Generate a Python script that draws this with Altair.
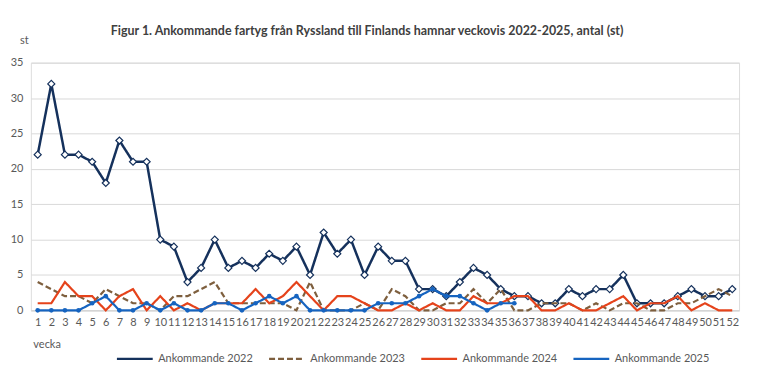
import altair as alt
import pandas as pd

weeks = list(range(1, 53))
years = ["Ankommande 2022", "Ankommande 2023", "Ankommande 2024", "Ankommande 2025"]
v2022 = [22, 32, 22, 22, 21, 18, 24, 21, 21, 10, 9, 4, 6, 10, 6, 7, 6, 8, 7, 9,
         5, 11, 8, 10, 5, 9, 7, 7, 3, 3, 2, 4, 6, 5, 3, 2, 2, 1, 1, 3,
         2, 3, 3, 5, 1, 1, 1, 2, 3, 2, 2, 3]
v2023 = [4, 3, 2, 2, 1, 3, 2, 1, 1, 0, 2, 2, 3, 4, 1, 1, 1, 1, 1, 0,
         4, 0, 0, 0, 1, 0, 3, 2, 0, 0, 1, 1, 3, 1, 3, 0, 0, 1, 1, 1,
         0, 1, 0, 1, 1, 0, 0, 1, 1, 2, 3, 2]
v2024 = [1, 1, 4, 2, 2, 0, 2, 3, 0, 2, 0, 1, 0, 1, 1, 1, 3, 1, 2, 4,
         2, 0, 2, 2, 1, 0, 0, 1, 0, 1, 0, 0, 2, 1, 1, 2, 2, 0, 0, 1,
         0, 0, 1, 2, 0, 1, 1, 2, 0, 1, 0, 0]
v2025 = [0, 0, 0, 0, 1, 2, 0, 0, 1, 0, 1, 0, 0, 1, 1, 0, 1, 2, 1, 2,
         0, 0, 0, 0, 0, 1, 1, 1, 2, 3, 2, 2, 1, 0, 1, 1]

colors = ["#15315C", "#7E5F3E", "#E5431B", "#1664C0"]
dashes = [[1, 0], [6, 3], [1, 0], [1, 0]]

rows = []
for name, vals in zip(years, [v2022, v2023, v2024, v2025]):
    for w, v in zip(weeks, vals):
        rows.append({"vecka": w, "serie": name, "st": v})
df = pd.DataFrame(rows)

FONT = "Lato"

x_enc = alt.X("vecka:O", scale=alt.Scale(type="point", padding=0.5, domain=weeks),
              axis=alt.Axis(title="vecka", labelAngle=0, ticks=False, domainColor="#D0D0D0",
                            labelColor="#595959", labelFontSize=11, labelFont=FONT,
                            labelPadding=6, titleFont=FONT, titleFontSize=11,
                            titleFontWeight="normal", titleColor="#595959",
                            titleAlign="left", titleX=2, titleY=34, titleBaseline="middle"))
y_enc = alt.Y("st:Q", scale=alt.Scale(domain=[0, 35], nice=False),
              axis=alt.Axis(title="st", values=[0, 5, 10, 15, 20, 25, 30, 35], domain=False,
                            ticks=False, gridColor="#D9D9D9", labelColor="#595959",
                            labelFontSize=11, labelFont=FONT, labelPadding=8,
                            titleAngle=0, titleX=-7, titleY=-22, titleAlign="center",
                            titleBaseline="middle", titleFont=FONT, titleFontSize=11,
                            titleFontWeight="normal", titleColor="#595959"))
color_enc = alt.Color("serie:N", scale=alt.Scale(domain=years, range=colors),
                      legend=alt.Legend(title=None, orient="none", direction="horizontal",
                                        legendX=85, legendY=278, symbolType="stroke",
                                        symbolSize=1296, symbolStrokeWidth=2.2,
                                        labelFont=FONT, labelFontSize=11,
                                        labelColor="#595959", columnPadding=11,
                                        labelOffset=4))
dash_enc = alt.StrokeDash("serie:N", scale=alt.Scale(domain=years, range=dashes),
                          legend=None)

base = alt.Chart(df)

layers = []
for i, name in enumerate(years):
    sw = 2.5 if i == 0 else 2.2
    line = base.transform_filter(alt.datum.serie == name).mark_line(strokeWidth=sw).encode(
        x=x_enc, y=y_enc, color=color_enc, strokeDash=dash_enc)
    layers.append(line)
    if i == 0:
        layers.append(base.transform_filter(alt.datum.serie == name).mark_point(
            shape="diamond", size=50, filled=True, fill="white", stroke=colors[0],
            strokeWidth=1.2, opacity=1).encode(x=x_enc, y=y_enc))
    if i == 3:
        layers.append(base.transform_filter(alt.datum.serie == name).mark_point(
            shape="circle", size=22, filled=True, color=colors[3], opacity=1).encode(
            x=x_enc, y=y_enc))

chart = alt.layer(*layers).properties(
    width=712, height=249,
    title=alt.TitleParams(
        "Figur 1. Ankommande fartyg från Ryssland till Finlands hamnar veckovis 2022-2025, antal (st)",
        font=FONT, fontSize=12.5, fontWeight="bold", color="#404040", anchor="middle",
        offset=-3, dx=-18),
    padding={"left": 23, "top": 54, "right": 10, "bottom": 60},
    autosize=alt.AutoSizeParams(type="none"),
).configure_view(stroke=None).configure(background="white")

chart.save("out.html", embed_options={"renderer": "svg", "actions": False})
